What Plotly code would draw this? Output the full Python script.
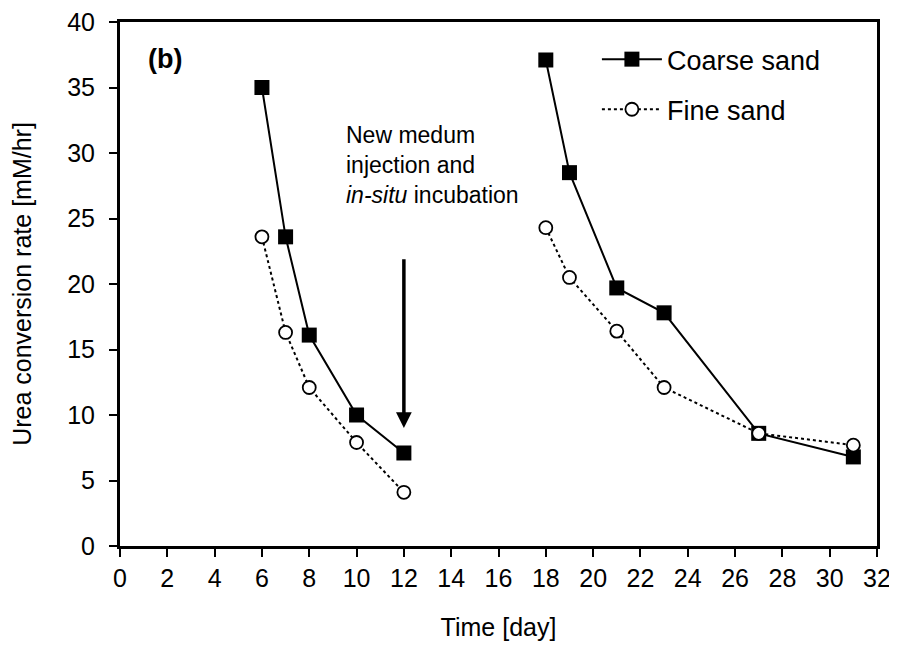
import plotly.graph_objects as go

days = [6, 7, 8, 10, 12, None, 18, 19, 21, 23, 27, 31]
coarse = [35.0, 23.6, 16.1, 10.0, 7.1, None, 37.1, 28.5, 19.7, 17.8, 8.6, 6.8]
fine = [23.6, 16.3, 12.1, 7.9, 4.1, None, 24.3, 20.5, 16.4, 12.1, 8.6, 7.7]
x_ticks = list(range(0, 33, 2))
y_ticks = list(range(0, 41, 5))

FONT = "Liberation Sans, Arial, sans-serif"

fig = go.Figure()
fig.add_trace(go.Scatter(
    x=days, y=coarse, name="Coarse sand", mode="lines+markers", legendgroup="coarse",
    legendrank=1,
    line=dict(color="black", width=2),
    marker=dict(symbol="square", size=15, color="black"),
    connectgaps=False,
))
fig.add_trace(go.Scatter(
    x=days, y=fine, name="Fine sand", mode="lines+markers", legendgroup="fine",
    legendrank=2,
    line=dict(color="black", width=2, dash="dot"),
    marker=dict(symbol="circle", size=13, color="white", line=dict(color="black", width=1.8)),
    connectgaps=False,
))

fig.add_annotation(x=12, y=9.0, ax=12, ay=22.0, xref="x", yref="y", axref="x", ayref="y",
                   showarrow=True, arrowhead=2, arrowsize=0.9, arrowwidth=3.5, arrowcolor="black", text="")
fig.add_annotation(x=9.45, y=29.1, xref="x", yref="y", xanchor="left", yanchor="middle",
                   showarrow=False, align="left",
                   text="New medum<br>injection and<br><i>in-situ</i> incubation",
                   font=dict(family=FONT, size=23, color="black"))
fig.add_annotation(x=0.035, y=0.93, xref="paper", yref="paper", xanchor="left", yanchor="middle",
                   showarrow=False, text="<b>(b)</b>",
                   font=dict(family=FONT, size=27, color="black"))

fig.update_layout(
    width=889, height=640,
    margin=dict(l=112, r=20, t=14, b=102),
    plot_bgcolor="white", paper_bgcolor="white",
    font=dict(family=FONT, size=25, color="black"),
    showlegend=True,
    legend=dict(x=0.63, y=0.975, xanchor="left", yanchor="top",
                font=dict(family=FONT, size=27, color="black"),
                traceorder="grouped", bgcolor="rgba(0,0,0,0)",
                itemwidth=60, tracegroupgap=12),
)
fig.update_xaxes(
    range=[0, 32], tickvals=x_ticks, ticktext=[str(v) for v in x_ticks],
    showgrid=False, zeroline=False, showline=True, linecolor="black", linewidth=3,
    mirror=True, ticks="outside", ticklen=8, tickwidth=2, tickcolor="black", automargin=False,
    ticklabeloverflow="allow",
    tickfont=dict(size=25), title=dict(text="Time [day]", font=dict(size=25), standoff=28),
)
fig.update_yaxes(
    range=[0, 40], tickvals=y_ticks, ticktext=[str(v) for v in y_ticks],
    showgrid=False, zeroline=False, showline=True, linecolor="black", linewidth=3,
    mirror=True, ticks="outside", ticklen=8, tickwidth=2, tickcolor="black", automargin=False,
    ticklabeloverflow="allow", ticklabelstandoff=9,
    tickfont=dict(size=25), title=dict(text="Urea conversion rate [mM/hr]", font=dict(size=25), standoff=30),
)

fig.write_html("out.html")
